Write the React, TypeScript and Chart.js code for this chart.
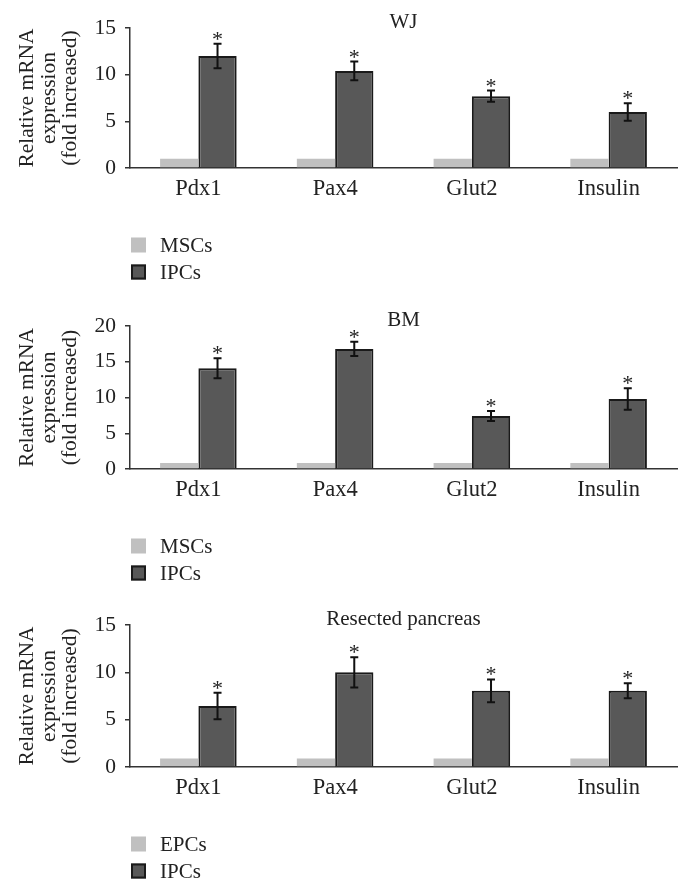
import React, { useEffect, useRef } from "react";
import { Chart, registerables } from "chart.js";

Chart.register(...registerables);

// ---------- data ----------
const categories = ["Pdx1", "Pax4", "Glut2", "Insulin"];
const significance = ["*", "*", "*", "*"];
const yAxisTitle = ["Relative mRNA", "expression", "(fold increased)"];

const wjTitle = "WJ";
const wjControlLabel = "MSCs";
const wjIPCLabel = "IPCs";
const wjControl = [1.0, 1.0, 1.0, 1.0];
const wjIPC = [12.0, 10.4, 7.7, 6.0];
const wjIPCErr = [1.3, 1.0, 0.6, 0.95];
const wjYMax = 15;

const bmTitle = "BM";
const bmControlLabel = "MSCs";
const bmIPCLabel = "IPCs";
const bmControl = [0.85, 0.85, 0.85, 0.85];
const bmIPC = [14.1, 16.8, 7.4, 9.8];
const bmIPCErr = [1.4, 1.0, 0.7, 1.5];
const bmYMax = 20;

const rpTitle = "Resected pancreas";
const rpControlLabel = "EPCs";
const rpIPCLabel = "IPCs";
const rpControl = [0.9, 0.9, 0.9, 0.9];
const rpIPC = [6.45, 10.0, 8.05, 8.05];
const rpIPCErr = [1.4, 1.6, 1.2, 0.8];
const rpYMax = 15;

const yStep = 5;

// ---------- styles ----------
const FONT = "'Liberation Serif', 'Times New Roman', serif";
const LIGHT = "#c0c0c0";
const DARK = "#585858";
const EDGE = "#1a1a1a";
const AXIS = "#333333";
const TEXT = "#222222";

type PanelProps = {
  top: number;
  height: number;
  padTop: number;
  xAxisHeight: number;
  title: string;
  controlLabel: string;
  ipcLabel: string;
  control: number[];
  ipc: number[];
  err: number[];
  yMax: number;
};

const overlayPlugin = {
  id: "overlay",
  afterDatasetsDraw(chart: any, _args: any, opts: any) {
    const { ctx, scales } = chart;
    const meta = chart.getDatasetMeta(1);
    const ds = chart.data.datasets[1];
    const errs: number[] = opts.err;
    ctx.save();
    ctx.strokeStyle = "#111";
    ctx.lineWidth = 2;
    meta.data.forEach((bar: any, i: number) => {
      const v = ds.data[i] as number;
      const yTop = scales.y.getPixelForValue(v + errs[i]);
      const yBot = scales.y.getPixelForValue(v - errs[i]);
      const x = bar.x;
      ctx.beginPath();
      ctx.moveTo(x, yTop);
      ctx.lineTo(x, yBot);
      ctx.moveTo(x - 4, yTop);
      ctx.lineTo(x + 4, yTop);
      ctx.moveTo(x - 4, yBot);
      ctx.lineTo(x + 4, yBot);
      ctx.stroke();
      ctx.fillStyle = TEXT;
      ctx.font = `22px ${FONT}`;
      ctx.textAlign = "center";
      ctx.textBaseline = "alphabetic";
      ctx.fillText(significance[i], x, yTop + 2);
    });
    ctx.restore();
  },
  afterDraw(chart: any, _args: any, opts: any) {
    const { ctx, chartArea } = chart;
    ctx.save();
    ctx.fillStyle = TEXT;
    ctx.font = `21px ${FONT}`;
    ctx.textAlign = "center";
    ctx.textBaseline = "middle";
    ctx.fillText(opts.title, (chartArea.left + chartArea.right) / 2, chartArea.top - 6);
    // legend
    const x0 = chartArea.left + 1;
    chart.data.datasets.forEach((d: any, i: number) => {
      const cy = chartArea.bottom + 77 + i * 27;
      ctx.fillStyle = d.backgroundColor;
      ctx.fillRect(x0, cy - 7.5, 15, 15);
      if (d.borderWidth) {
        ctx.strokeStyle = EDGE;
        ctx.lineWidth = 2;
        ctx.strokeRect(x0 + 1, cy - 6.5, 13, 13);
      }
      ctx.fillStyle = TEXT;
      ctx.textAlign = "left";
      ctx.textBaseline = "middle";
      ctx.fillText(d.label, x0 + 29, cy + 1);
    });
    ctx.restore();
  },
};

function Panel(p: PanelProps) {
  const ref = useRef<HTMLCanvasElement | null>(null);
  useEffect(() => {
    if (!ref.current) return;
    const chart = new Chart(ref.current, {
      type: "bar",
      data: {
        labels: categories,
        datasets: [
          {
            label: p.controlLabel,
            data: p.control,
            backgroundColor: LIGHT,
            borderWidth: 0,
            categoryPercentage: 0.56,
            barPercentage: 1.0,
          },
          {
            label: p.ipcLabel,
            data: p.ipc,
            backgroundColor: DARK,
            borderColor: EDGE,
            borderWidth: 2,
            categoryPercentage: 0.56,
            barPercentage: 1.0,
          },
        ],
      },
      options: {
        responsive: false,
        animation: false,
        devicePixelRatio: 1,
        layout: { padding: { top: p.padTop, left: 17, right: 13, bottom: 0 } },
        plugins: {
          legend: { display: false },
          title: { display: false },
          tooltip: { enabled: false },
          overlay: { err: p.err, title: p.title },
        } as any,
        scales: {
          x: {
            grid: { display: false, drawTicks: false },
            border: { display: true, color: AXIS, width: 1.5 },
            ticks: { color: TEXT, font: { family: FONT, size: 22.5 }, padding: 8 },
            afterFit: (s: any) => {
              s.height = p.xAxisHeight;
            },
          },
          y: {
            min: 0,
            max: p.yMax,
            ticks: { stepSize: yStep, color: TEXT, font: { family: FONT, size: 21.5 }, padding: 9 },
            grid: { display: true, drawOnChartArea: false, drawTicks: true, tickLength: 5, color: AXIS, lineWidth: 1.5 },
            border: { display: true, color: AXIS, width: 1.5 },
            title: {
              display: true,
              text: yAxisTitle,
              color: TEXT,
              font: { family: FONT, size: 21.5, lineHeight: 1.0 },
              padding: 0,
            },
            afterFit: (s: any) => {
              s.width = 113;
            },
          },
        },
      },
      plugins: [overlayPlugin],
    });
    return () => chart.destroy();
  }, []);
  return (
    <canvas
      ref={ref}
      width={690}
      height={p.height}
      style={{ position: "absolute", left: 0, top: p.top, width: 690, height: p.height }}
    />
  );
}

export default function App() {
  return (
    <div style={{ position: "absolute", left: 0, top: 0, width: 690, height: 893, background: "#fff" }}>
      <Panel top={0} height={290} padTop={28} xAxisHeight={122} title={wjTitle}
        controlLabel={wjControlLabel} ipcLabel={wjIPCLabel} control={wjControl} ipc={wjIPC} err={wjIPCErr} yMax={wjYMax} />
      <Panel top={290} height={300} padTop={36} xAxisHeight={121} title={bmTitle}
        controlLabel={bmControlLabel} ipcLabel={bmIPCLabel} control={bmControl} ipc={bmIPC} err={bmIPCErr} yMax={bmYMax} />
      <Panel top={590} height={303} padTop={35} xAxisHeight={126} title={rpTitle}
        controlLabel={rpControlLabel} ipcLabel={rpIPCLabel} control={rpControl} ipc={rpIPC} err={rpIPCErr} yMax={rpYMax} />
    </div>
  );
}
